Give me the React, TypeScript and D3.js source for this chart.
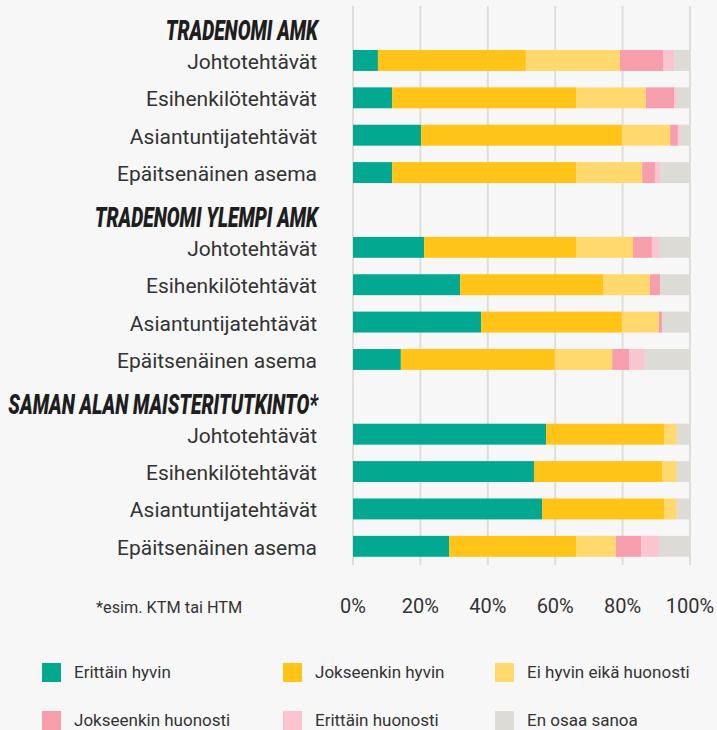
import * as d3 from 'd3';

const groups = ['TRADENOMI AMK', 'TRADENOMI YLEMPI AMK', 'SAMAN ALAN MAISTERITUTKINTO*'];
const tasks = ['Johtotehtävät', 'Esihenkilötehtävät', 'Asiantuntijatehtävät', 'Epäitsenäinen asema'];
const answers = [
  'Erittäin hyvin',
  'Jokseenkin hyvin',
  'Ei hyvin eikä huonosti',
  'Jokseenkin huonosti',
  'Erittäin huonosti',
  'En osaa sanoa',
];
const colors = ['#02a88f', '#ffc417', '#ffd96e', '#f79eac', '#fac5cf', '#dddbd6'];

// 12 rows: 4 tasks x 3 groups, percent
const erittainHyvin = [7.4, 11.6, 20.2, 11.6, 21.1, 31.8, 38.0, 14.2, 57.3, 53.7, 56.1, 28.5];
const jokseenkinHyvin = [43.9, 54.6, 59.6, 54.6, 45.1, 42.4, 41.8, 45.7, 35.0, 38.0, 36.2, 37.7];
const eiHyvinEikaHuonosti = [27.9, 20.7, 14.3, 19.6, 16.9, 13.9, 11.0, 17.0, 3.8, 4.4, 3.8, 11.8];
const jokseenkinHuonosti = [12.8, 8.4, 2.3, 3.8, 5.6, 3.0, 0.9, 5.0, 0, 0, 0, 7.5];
const erittainHuonosti = [3.3, 0.8, 0.6, 1.5, 2.1, 0, 0, 4.7, 0, 0, 0, 5.3];
const enOsaaSanoa = [4.7, 3.9, 3.0, 8.9, 9.2, 8.9, 8.3, 13.4, 3.9, 3.9, 3.9, 9.2];

const ticks = [0, 20, 40, 60, 80, 100];
const footnote = '*esim. KTM tai HTM';

const series = [erittainHyvin, jokseenkinHyvin, eiHyvinEikaHuonosti, jokseenkinHuonosti, erittainHuonosti, enOsaaSanoa];

const W = 717;
const H = 730;
const labelFont = 'Roboto, "Noto Sans", sans-serif';
const legendCols = [42, 283, 495];

export default function App() {
  // rows: header + 4 tasks per group
  const rows: { key: string; label: string; header: boolean }[] = [];
  let k = 0;
  groups.forEach((g, gi) => {
    rows.push({ key: 'h' + gi, label: g, header: true });
    tasks.forEach((t) => {
      rows.push({ key: 'r' + k, label: t, header: false });
      k++;
    });
  });

  const data = d3.range(k).map((i) => {
    const o: any = { key: 'r' + i };
    answers.forEach((a, si) => (o[a] = series[si][i]));
    return o;
  });
  const stacked = d3.stack().keys(answers)(data);

  const x = d3.scaleLinear().domain([0, 100]).range([353, 690]);
  const y = d3
    .scaleBand()
    .domain(rows.map((r) => r.key))
    .range([4.4, 565])
    .paddingInner(0.44)
    .paddingOuter(0.22);
  const mid = (key: string) => (y(key) as number) + y.bandwidth() / 2;

  return (
    <svg width={W} height={H} style={{ position: 'absolute', left: 0, top: 0, background: '#f7f7f7' }}>
      <rect width={W} height={H} fill="#f7f7f7" />
      {ticks.map((t) => (
        <line key={t} x1={x(t)} x2={x(t)} y1={6} y2={565} stroke="#e0ded9" strokeWidth={2} />
      ))}
      {stacked.map((s, si) => (
        <g key={s.key} fill={colors[si]}>
          {s.map((d: any) => {
            const w = x(d[1]) - x(d[0]);
            if (w <= 0) return null;
            return <rect key={d.data.key} x={x(d[0])} y={y(d.data.key)} width={w} height={y.bandwidth()} />;
          })}
        </g>
      ))}
      {rows.map((r) =>
        r.header ? (
          <g key={r.key} transform={`translate(318,${mid(r.key) + 17}) scale(0.685,1)`}>
            <text
              textAnchor="end"
              fontFamily={labelFont}
              fontWeight={900}
              fontStyle="italic"
              fontSize={28}
              fill="#1e1e1e"
            >
              {r.label}
            </text>
          </g>
        ) : (
          <text
            key={r.key}
            x={317}
            y={mid(r.key) + 8.5}
            textAnchor="end"
            fontFamily={labelFont}
            fontSize={21}
            fill="#333"
          >
            {r.label}
          </text>
        )
      )}
      {ticks.map((t) => (
        <text key={t} x={x(t)} y={613} textAnchor="middle" fontFamily={labelFont} fontSize={20} fill="#333">
          {t}%
        </text>
      ))}
      <text x={96} y={613} fontFamily={labelFont} fontSize={16.3} fill="#333">
        {footnote}
      </text>
      {answers.map((a, i) => {
        const lx = legendCols[i % 3];
        const ly = 663 + Math.floor(i / 3) * 48;
        return (
          <g key={a} transform={`translate(${lx},${ly})`}>
            <rect width={19} height={19} fill={colors[i]} />
            <text x={32} y={15} fontFamily={labelFont} fontSize={17} fill="#333">
              {a}
            </text>
          </g>
        );
      })}
    </svg>
  );
}
